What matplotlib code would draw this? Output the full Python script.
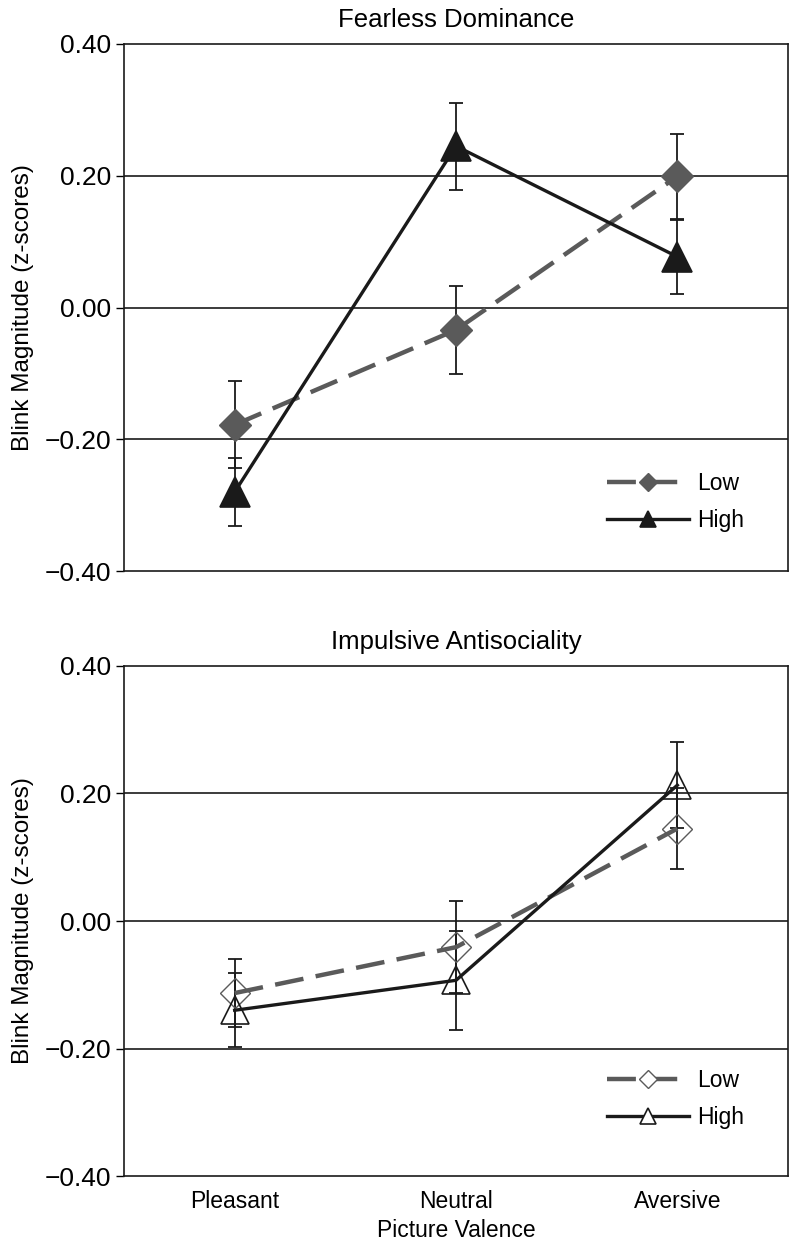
import matplotlib
matplotlib.use("Agg")
import matplotlib.pyplot as plt

plt.rcParams['font.family'] = ['Liberation Sans', 'DejaVu Sans']

categories = ["Pleasant", "Neutral", "Aversive"]
yticks = [-0.40, -0.20, 0.00, 0.20, 0.40]

# Fearless Dominance
fd_low = [-0.178, -0.034, 0.199]
fd_low_err = [0.066, 0.067, 0.065]
fd_high = [-0.280, 0.245, 0.077]
fd_high_err = [0.051, 0.066, 0.056]

# Impulsive Antisociality
ia_low = [-0.113, -0.041, 0.145]
ia_low_err = [0.053, 0.072, 0.064]
ia_high = [-0.140, -0.093, 0.213]
ia_high_err = [0.058, 0.078, 0.067]

GRAY = "#5a5a5a"
BLACK = "#1a1a1a"

fig = plt.figure(figsize=(8.0, 12.49), dpi=100)
ax1 = fig.add_axes([0.155, 0.5428, 0.83, 0.422])
ax2 = fig.add_axes([0.155, 0.0584, 0.83, 0.4084])

def draw(ax, low, low_err, high, high_err, title, filled, show_x, leg_y):
    x = list(range(len(categories)))
    ax.errorbar(x, low, yerr=low_err, fmt='none', ecolor=BLACK, elinewidth=1.3,
                capsize=5, capthick=1.3, zorder=2)
    ax.errorbar(x, high, yerr=high_err, fmt='none', ecolor=BLACK, elinewidth=1.3,
                capsize=5, capthick=1.3, zorder=2)
    if filled:
        lfc, hfc = GRAY, BLACK
        lms, hms = 16, 22
    else:
        lfc, hfc = 'none', 'none'
        lms, hms = 15, 20
    ax.plot(x, low, color=GRAY, lw=3.2, dashes=(6.5, 2.8), marker='D',
            markersize=lms, markerfacecolor=lfc, markeredgecolor=GRAY,
            markeredgewidth=1.0, zorder=3)
    ax.plot(x, high, color=BLACK, lw=2.4, marker='^', markersize=hms,
            markerfacecolor=hfc, markeredgecolor=BLACK, markeredgewidth=1.2,
            zorder=3)
    # legend handles
    hl, = ax.plot([], [], color=GRAY, lw=3.2, dashes=(6.5, 2.8), marker='D',
                  markersize=9, markerfacecolor=lfc if filled else 'white',
                  markeredgecolor=GRAY, markeredgewidth=1.0)
    hh, = ax.plot([], [], color=BLACK, lw=2.4, marker='^', markersize=11,
                  markerfacecolor=hfc if filled else 'white',
                  markeredgecolor=BLACK, markeredgewidth=1.2)
    ax.legend([hl, hh], ["Low", "High"], loc='lower right',
              bbox_to_anchor=(0.965, leg_y), frameon=False, fontsize=16.5,
              handlelength=3.6, handletextpad=0.35, labelspacing=0.6,
              numpoints=1)
    ax.set_xlim(-0.5, 2.5)
    ax.set_ylim(-0.40, 0.40)
    ax.set_yticks(yticks)
    ax.set_yticklabels([f"{v:.2f}".replace('-', '\u2212') for v in yticks],
                       fontsize=19)
    for v in [-0.20, 0.00, 0.20]:
        ax.axhline(v, color=BLACK, lw=1.2, zorder=1)
    ax.set_xticks(x)
    if show_x:
        ax.set_xticklabels(categories, fontsize=16.5)
        ax.set_xlabel("Picture Valence", fontsize=16.5, labelpad=4)
    else:
        ax.set_xticklabels([])
    ax.tick_params(axis='x', length=0, pad=10)
    ax.tick_params(axis='y', length=6, width=1.0, direction='out', pad=3)
    ax.set_ylabel("Blink Magnitude (z-scores)", fontsize=17.5, labelpad=8)
    ax.set_title(title, fontsize=18.5, pad=12)
    for s in ax.spines.values():
        s.set_linewidth(1.2)
        s.set_color(BLACK)

draw(ax1, fd_low, fd_low_err, fd_high, fd_high_err, "Fearless Dominance", True, False, 0.035)
draw(ax2, ia_low, ia_low_err, ia_high, ia_high_err, "Impulsive Antisociality", False, True, 0.052)

fig.savefig("out.png", dpi=100)
